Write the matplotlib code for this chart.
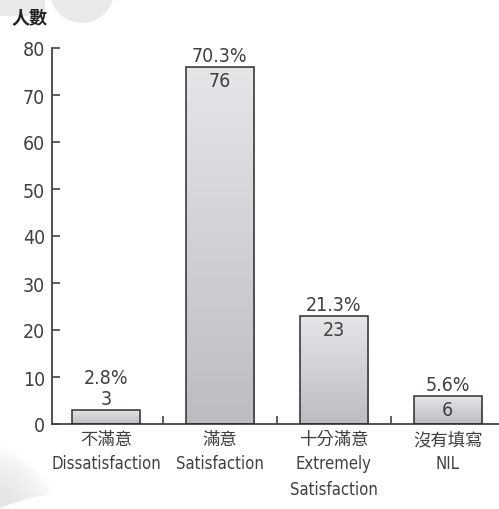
import matplotlib.pyplot as plt
import numpy as np
from matplotlib.patches import Circle, Rectangle
from matplotlib.colors import LinearSegmentedColormap

plt.rcParams['font.family'] = ['DejaVu Sans', 'Noto Sans CJK TC']
plt.rcParams['font.stretch'] = 'condensed'

labels_zh = ['不滿意', '滿意', '十分滿意', '沒有填寫']
labels_en = ['Dissatisfaction', 'Satisfaction', 'Extremely\nSatisfaction', 'NIL']
counts = [3, 76, 23, 6]
percents = ['2.8%', '70.3%', '21.3%', '5.6%']
yticks = [0, 10, 20, 30, 40, 50, 60, 70, 80]

txt = '#404040'
cjk = ['Noto Sans CJK TC', 'DejaVu Sans']

fig = plt.figure(figsize=(4.99, 5.10), dpi=100)

# light grey decoration behind the chart (pixel coordinates, y down)
ax_bg = fig.add_axes([0, 0, 1, 1], zorder=-1)
ax_bg.set_xlim(0, 499)
ax_bg.set_ylim(510, 0)
ax_bg.axis('off')
ax_bg.add_patch(Rectangle((0, 0), 45, 17, color='#e9e9ea', lw=0))
ax_bg.add_patch(Circle((82, -8), 32, color='#e9e9ea', lw=0))
# soft grey blob at bottom left, cut by a white arc
for r in np.arange(100, 60, -2):
    ax_bg.add_patch(Circle((-35, 540), r, color='#e4e4e6', alpha=0.06, lw=0))
ax_bg.add_patch(Circle((-35, 540), 60, color='#e6e6e8', lw=0))
ax_bg.add_patch(Circle((75, 689), 195, color='white', lw=0))

ax = fig.add_axes([52 / 499, 85 / 510, 447 / 499, 376 / 510])
ax.patch.set_alpha(0)

cmap = LinearSegmentedColormap.from_list('bar', ['#bcbdc1', '#e5e6e8'])
grad = np.linspace(0, 1, 256).reshape(-1, 1)
width = 0.6
x = np.arange(len(counts))
bars = ax.bar(x, counts, width=width, facecolor='none', edgecolor='#2e2e2e', lw=1.1, zorder=3)
for b in bars:
    im = ax.imshow(grad, cmap=cmap, origin='lower', aspect='auto',
                   extent=[b.get_x(), b.get_x() + b.get_width(), 0, b.get_height()], zorder=2)
    im.set_clip_path(b)

for xi, c, p in zip(x, counts, percents):
    if c >= 5:
        ax.text(xi, c - 0.9, str(c), ha='center', va='top', fontsize=14, color=txt)
        ax.text(xi, c + 1.3, p, ha='center', va='baseline', fontsize=14, color=txt)
    else:
        ax.text(xi, c + 1.3, str(c), ha='center', va='baseline', fontsize=14, color=txt)
        ax.text(xi, c + 5.8, p, ha='center', va='baseline', fontsize=14, color=txt)

ax.set_xlim(-0.474, 3.45)
ax.set_ylim(0, 80)
ax.set_yticks(yticks)
ax.set_yticklabels([str(v) for v in yticks], fontsize=14, color=txt)
ax.tick_params(axis='y', direction='in', length=6, width=1.2, color='#444444', pad=5)
ax.set_xticks([0.5, 1.5, 2.5])
ax.set_xticklabels([])
ax.tick_params(axis='x', direction='in', length=6, width=1.2, color='#444444')
for s in ['top', 'right']:
    ax.spines[s].set_visible(False)
for s in ['left', 'bottom']:
    ax.spines[s].set_color('#444444')
    ax.spines[s].set_linewidth(1.3)

for xi, zh, en in zip(x, labels_zh, labels_en):
    ax.text(xi, -1.3, zh, ha='center', va='top', fontsize=12.5, color=txt, family=cjk,
            fontweight='light')
    ax.text(xi, -6.4, en, ha='center', va='top', fontsize=12, color=txt, linespacing=1.55)

fig.text(12 / 499, 1 - 8 / 510, '人數', ha='left', va='top', fontsize=13, color='#222222',
         family=cjk, fontweight='bold')

fig.savefig('out.png', dpi=100)
